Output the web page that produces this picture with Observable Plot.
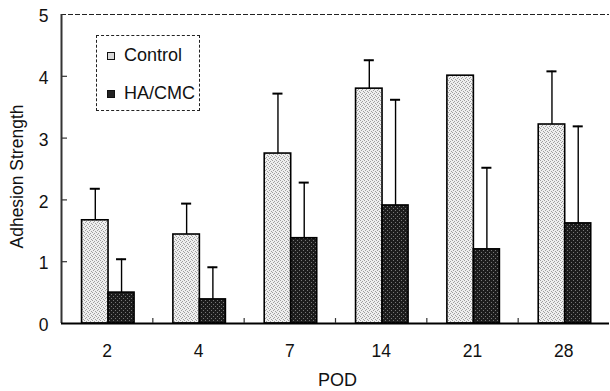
<!DOCTYPE html>
<html>
<head>
<meta charset="utf-8">
<script src="https://cdn.jsdelivr.net/npm/d3@7"></script>
<script src="https://cdn.jsdelivr.net/npm/@observablehq/plot@0.6"></script>
<style>
  body { margin: 0; background: #fff; }
  #wrap { position: relative; width: 610px; height: 391px; font-family: "Liberation Sans", Arial, sans-serif; }
  #legend { position: absolute; left: 96px; top: 35px; width: 104px; height: 76px; border: 1px dashed #222; box-sizing: border-box; background: #fff; }
  .item { position: absolute; left: 10px; display: flex; align-items: center; font-size: 18px; color: #111; }
  .sw { width: 8px; height: 8px; border: 1px solid #111; margin-right: 9px; box-sizing: border-box; }
</style>
</head>
<body>
<div id="wrap"></div>
<script>
// ---- data ----
const pod = ["2", "4", "7", "14", "21", "28"];
const seriesNames = ["Control", "HA/CMC"];
const controlMean = [1.67, 1.44, 2.75, 3.80, 4.01, 3.22];
const controlSD   = [0.51, 0.50, 0.97, 0.46, 0.00, 0.86];
const hacmcMean   = [0.50, 0.39, 1.38, 1.91, 1.20, 1.62];
const hacmcSD     = [0.54, 0.52, 0.90, 1.71, 1.32, 1.57];
const yTicks = [0, 1, 2, 3, 4, 5];

// ---- layout (position of each series inside a POD group, group width = 1) ----
const slot = {"Control": [0.225, 0.515], "HA/CMC": [0.515, 0.80]};
const rows = [];
pod.forEach((p, i) => {
  rows.push({pod: p, i, series: "Control", value: controlMean[i], sd: controlSD[i]});
  rows.push({pod: p, i, series: "HA/CMC", value: hacmcMean[i], sd: hacmcSD[i]});
});
rows.forEach(r => {
  r.x1 = r.i + slot[r.series][0];
  r.x2 = r.i + slot[r.series][1];
  r.xc = (r.x1 + r.x2) / 2;
  r.top = r.value + r.sd;
});
const errRows = rows.filter(r => r.sd > 0);
const fills = {"Control": "url(#patCtrl)", "HA/CMC": "url(#patHa)"};

const chart = Plot.plot({
  width: 610,
  height: 391,
  marginLeft: 61,
  marginRight: 1,
  marginTop: 14,
  marginBottom: 68,
  style: {fontFamily: "'Liberation Sans', Arial, sans-serif", color: "#111", background: "#fff"},
  x: {domain: [0, pod.length], axis: null},
  y: {domain: [0, 5], axis: null},
  marks: [
    // frame: dashed top, solid left and bottom
    Plot.ruleY([5], {x1: 0, x2: pod.length, stroke: "#222", strokeWidth: 1, strokeDasharray: "5,2"}),
    Plot.rectY(rows, {x1: "x1", x2: "x2", y1: 0, y2: "value", fill: d => fills[d.series], stroke: "#000", strokeWidth: 1.6}),
    // error bars (upper only)
    Plot.ruleX(errRows, {x: "xc", y1: "value", y2: "top", stroke: "#000", strokeWidth: 1.4}),
    Plot.ruleY(errRows, {y: "top", x1: d => d.xc - 0.055, x2: d => d.xc + 0.055, stroke: "#000", strokeWidth: 2}),
    // axes lines and inward ticks
    Plot.ruleX([0], {y1: 0, y2: 5, stroke: "#333", strokeWidth: 2}),
    Plot.ruleY([0], {x1: 0, x2: pod.length, stroke: "#000", strokeWidth: 2}),
    Plot.ruleY(yTicks.slice(1, -1), {x1: 0, x2: 0.066, stroke: "#333", strokeWidth: 1.2}),
    Plot.ruleX(d3.range(1, pod.length), {y1: 0, y2: 0.08, stroke: "#333", strokeWidth: 1.2}),
    Plot.axisY({ticks: yTicks, tickFormat: d3.format("d"), tickSize: 0, tickPadding: 13, fontSize: 17.5, dy: 2, label: null}),
    Plot.axisX({ticks: pod.map((p, i) => i + 0.5), tickFormat: v => pod[Math.floor(v)], tickSize: 0, tickPadding: 21, fontSize: 17.5, label: null}),
    Plot.text(["POD"], {frameAnchor: "bottom", dy: 57, dx: 2, fontSize: 18, textAnchor: "middle", lineAnchor: "middle", fill: "#111"}),
    Plot.text(["Adhesion Strength"], {frameAnchor: "left", dx: -44, dy: 7.5, rotate: -90, fontSize: 17.5, textAnchor: "middle", lineAnchor: "middle", fill: "#111"})
  ]
});

// stipple patterns used by the bars
const svg = d3.select(chart.tagName.toLowerCase() === "svg" ? chart : chart.querySelector("svg"));
const defs = svg.insert("defs", ":first-child");
const pc = defs.append("pattern").attr("id", "patCtrl").attr("patternUnits", "userSpaceOnUse").attr("width", 4).attr("height", 4);
pc.append("rect").attr("width", 4).attr("height", 4).attr("fill", "#efefef");
[[0,0],[2,1],[1,2],[3,3]].forEach(([a,b]) => pc.append("rect").attr("x", a).attr("y", b).attr("width", 1).attr("height", 1).attr("fill", "#a0a0a0"));
const ph = defs.append("pattern").attr("id", "patHa").attr("patternUnits", "userSpaceOnUse").attr("width", 4).attr("height", 4);
ph.append("rect").attr("width", 4).attr("height", 4).attr("fill", "#1c1c1c");
[[1,0],[3,2]].forEach(([a,b]) => ph.append("rect").attr("x", a).attr("y", b).attr("width", 1).attr("height", 1).attr("fill", "#777"));

const wrap = document.getElementById("wrap");
wrap.appendChild(chart);

// legend (inside the plot area)
const legend = document.createElement("div");
legend.id = "legend";
const legendFill = {"Control": "#d8d8d8", "HA/CMC": "#222"};
seriesNames.forEach((s, k) => {
  const it = document.createElement("div");
  it.className = "item";
  it.style.top = (k === 0 ? 9 : 47) + "px";
  const sw = document.createElement("span");
  sw.className = "sw";
  sw.style.background = legendFill[s];
  const tx = document.createElement("span");
  tx.textContent = s;
  it.appendChild(sw);
  it.appendChild(tx);
  legend.appendChild(it);
});
wrap.appendChild(legend);
</script>
</body>
</html>
